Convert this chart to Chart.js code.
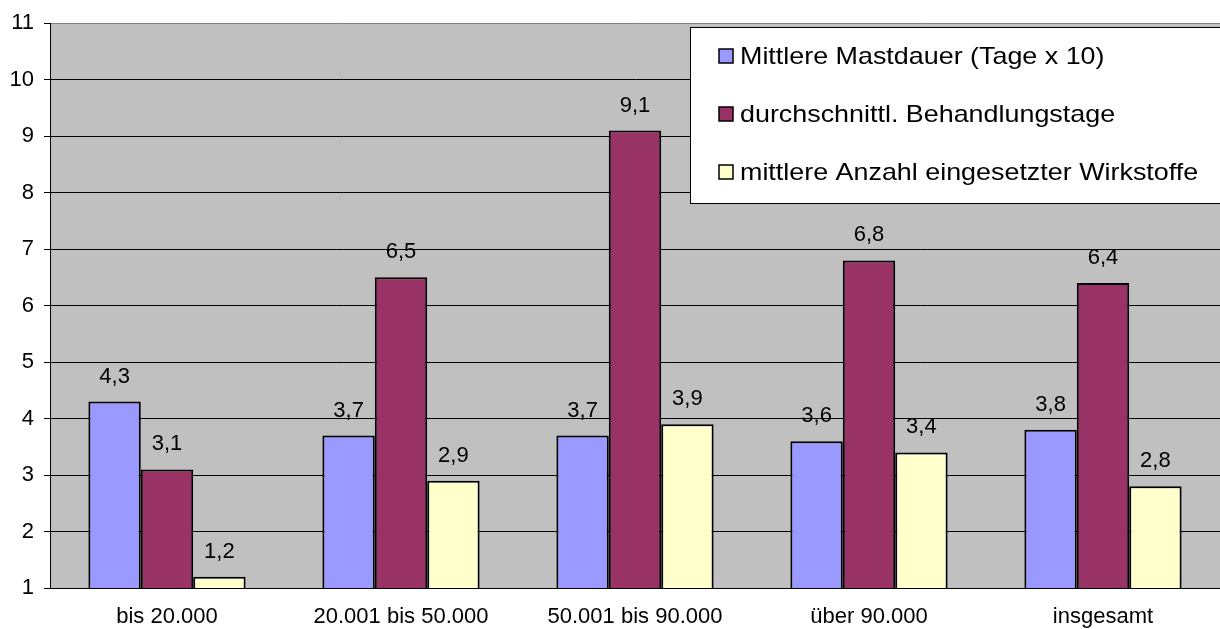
<!DOCTYPE html>
<html>
<head>
<meta charset="utf-8">
<script src="https://cdn.jsdelivr.net/npm/chart.js@4/dist/chart.umd.min.js"></script>
<style>
  html, body { margin: 0; padding: 0; background: #fff; }
  #wrap { width: 1220px; height: 629px; }
</style>
</head>
<body>
<div id="wrap"><canvas id="chart"></canvas></div>
<script>
// Kategorien (Bestandsgröße)
const categories = ['bis 20.000', '20.001 bis 50.000', '50.001 bis 90.000', 'über 90.000', 'insgesamt'];

// Serien
const seriesNames = [
    'Mittlere Mastdauer (Tage x 10)',
    'durchschnittl. Behandlungstage',
    'mittlere Anzahl eingesetzter Wirkstoffe'
];
const mastdauer = [4.3, 3.7, 3.7, 3.6, 3.8];
const behandlungstage = [3.1, 6.5, 9.1, 6.8, 6.4];
const wirkstoffe = [1.2, 2.9, 3.9, 3.4, 2.8];

// Y-Achse
const yTicks = [1, 2, 3, 4, 5, 6, 7, 8, 9, 10, 11];

const colors = ['#9999FF', '#993366', '#FFFFCC'];
const FONT = 'Liberation Sans, Arial, sans-serif';

// grauer Hintergrund der Zeichenfläche
const plotBackground = {
    id: 'plotBackground',
    beforeDraw(chart) {
        const { ctx, chartArea: a } = chart;
        ctx.save();
        ctx.fillStyle = '#C0C0C0';
        ctx.fillRect(a.left, a.top, a.right - a.left, a.bottom - a.top);
        ctx.restore();
    }
};

// Werte über den Balken
const valueLabels = {
    id: 'valueLabels',
    afterDatasetsDraw(chart) {
        const ctx = chart.ctx;
        ctx.save();
        ctx.font = '22px ' + FONT;
        ctx.fillStyle = '#000';
        ctx.textAlign = 'center';
        ctx.textBaseline = 'alphabetic';
        chart.data.datasets.forEach((ds, i) => {
            chart.getDatasetMeta(i).data.forEach((bar, j) => {
                const txt = String(ds.data[j]).replace('.', ',');
                ctx.fillText(txt, bar.x, bar.y - 19);
            });
        });
        ctx.restore();
    }
};

// Legende im Kasten oben rechts
const boxLegend = {
    id: 'boxLegend',
    afterDraw(chart) {
        const ctx = chart.ctx;
        const x = 690, y = 27, w = 540, h = 176;
        ctx.save();
        ctx.fillStyle = '#fff';
        ctx.fillRect(x, y, w, h);
        ctx.strokeStyle = '#000';
        ctx.lineWidth = 1;
        ctx.strokeRect(x + 0.5, y + 0.5, w, h);
        ctx.textBaseline = 'middle';
        ctx.textAlign = 'left';
        seriesNames.forEach((name, i) => {
            const cy = 56 + i * 58;
            ctx.fillStyle = colors[i];
            ctx.fillRect(719, cy - 7, 14, 14);
            ctx.strokeStyle = '#000';
            ctx.lineWidth = 1.5;
            ctx.strokeRect(719, cy - 7, 14, 14);
            ctx.fillStyle = '#000';
            ctx.save();
            ctx.translate(740, cy + 1);
            ctx.scale(1.12, 1);
            ctx.font = '24px ' + FONT;
            ctx.fillText(name, 0, 0);
            ctx.restore();
        });
        ctx.restore();
    }
};

new Chart(document.getElementById('chart'), {
    type: 'bar',
    data: {
        labels: categories,
        datasets: [mastdauer, behandlungstage, wirkstoffe].map((d, i) => ({
            label: seriesNames[i],
            data: d,
            backgroundColor: colors[i],
            borderColor: '#000',
            borderWidth: 2,
            categoryPercentage: 0.672,
            barPercentage: 1
        }))
    },
    options: {
        responsive: true,
        maintainAspectRatio: false,
        animation: false,
        layout: { padding: { top: 22, left: 0, right: 0, bottom: 0 } },
        plugins: {
            legend: { display: false },
            tooltip: { enabled: false }
        },
        scales: {
            x: {
                grid: { display: false, drawTicks: false },
                border: { display: true, color: '#000', width: 1 },
                ticks: { color: '#000', font: { family: FONT, size: 22 }, padding: 16, maxRotation: 0 },
                afterFit(scale) { scale.height = 41; }
            },
            y: {
                min: 1,
                max: 11,
                afterBuildTicks(scale) { scale.ticks = yTicks.map(v => ({ value: v })); },
                grid: {
                    color: c => (c.tick && c.tick.value === 11 ? '#808080' : '#000'),
                    tickColor: '#000',
                    tickLength: 6,
                    lineWidth: 1
                },
                border: { display: true, color: '#000', width: 1 },
                ticks: { color: '#000', font: { family: FONT, size: 22 }, padding: 10 },
                afterFit(scale) { scale.width = 50; }
            }
        }
    },
    plugins: [plotBackground, valueLabels, boxLegend]
});
</script>
</body>
</html>
